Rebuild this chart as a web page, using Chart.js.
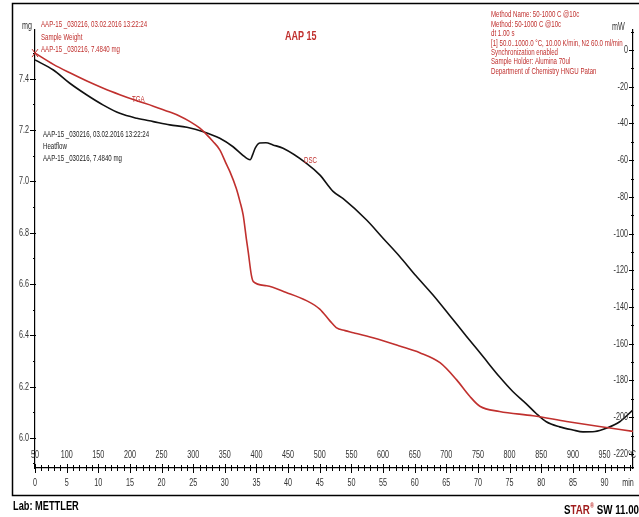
<!DOCTYPE html>
<html>
<head>
<meta charset="utf-8">
<script src="https://cdn.jsdelivr.net/npm/chart.js@4.4.1/dist/chart.umd.min.js"></script>
<style>
  html, body { margin: 0; padding: 0; background: #fff; }
  #wrap { position: relative; width: 639px; height: 517px; }
</style>
</head>
<body>
<div id="wrap"><canvas id="tgaChart" width="639" height="517"></canvas></div>
<script>
const FONT = "'Liberation Sans', Arial, sans-serif";
const RED = '#c0302e';

// TGA (red, mg) vs temperature
const tempTGA = [50, 79, 105, 132, 158, 184, 210, 237, 263, 279, 295, 310, 322, 331, 342, 353, 358, 368, 374, 379, 384, 387, 392, 395, 416, 447, 479, 500, 516, 526, 540, 553, 584, 626, 658, 690, 716, 737, 753, 784, 837, 890, 942, 995];
const massTGA = [7.50, 7.456, 7.423, 7.391, 7.363, 7.338, 7.315, 7.293, 7.27, 7.254, 7.233, 7.208, 7.18, 7.156, 7.123, 7.064, 7.038, 6.973, 6.92, 6.868, 6.776, 6.724, 6.633, 6.609, 6.593, 6.567, 6.535, 6.502, 6.456, 6.43, 6.418, 6.41, 6.39, 6.358, 6.332, 6.293, 6.227, 6.162, 6.123, 6.103, 6.086, 6.064, 6.044, 6.025];

// DSC (black, mW) vs temperature
const tempDSC = [50, 79, 105, 132, 158, 184, 211, 237, 263, 290, 316, 342, 363, 379, 386, 390, 394, 398, 405, 415, 426, 442, 479, 500, 521, 537, 574, 600, 626, 652, 679, 705, 732, 758, 784, 805, 826, 842, 858, 879, 900, 916, 935, 953, 974, 995];
const heatDSC = [-5.4, -10.9, -18.1, -24.5, -30, -34.5, -37.2, -39, -40.8, -42.1, -44.5, -48.1, -52.7, -57.5, -59.3, -59.8, -57, -53.5, -50.7, -50.5, -51.7, -53.5, -61.7, -68, -77, -81, -92.6, -102.5, -112.3, -123, -133.5, -144.5, -156, -167, -178, -186, -192.6, -198, -202.5, -205.3, -207, -208, -207.8, -206, -202.5, -196];

// axis ticks
const tempLabels = [50, 100, 150, 200, 250, 300, 350, 400, 450, 500, 550, 600, 650, 700, 750, 800, 850, 900, 950];

const toPoints = (xs, ys) => xs.map((x, i) => ({ x: x, y: ys[i] }));

// condensed text: squeeze horizontally
function txt(ctx, s, x, y, sx, align) {
  const w = ctx.measureText(s).width * sx;
  let x0 = x;
  if (align === 'right') x0 = x - w;
  if (align === 'center') x0 = x - w / 2;
  ctx.save();
  ctx.translate(x0, y);
  ctx.scale(sx, 1);
  ctx.textAlign = 'left';
  ctx.fillText(s, 0, 0);
  ctx.restore();
  return w;
}

const decor = {
  id: 'decor',
  afterDraw(chart) {
    const ctx = chart.ctx;
    const a = chart.chartArea;
    const xs = chart.scales.x;
    const xt = chart.scales.x2;
    const yl = chart.scales.y;
    const yr = chart.scales.y2;
    ctx.save();
    ctx.strokeStyle = '#000';
    ctx.fillStyle = '#000';

    // outer frame
    ctx.lineWidth = 1.5;
    ctx.strokeRect(12.5, 3.5, 700, 492);

    // y tick marks and labels
    ctx.lineWidth = 1;
    ctx.font = '10px ' + FONT;
    ctx.textBaseline = 'middle';
    ctx.fillStyle = '#333';
    yl.ticks.forEach(t => {
      const y = Math.round(yl.getPixelForValue(t.value)) + 0.5;
      const major = Math.round(t.value * 10) % 2 === 0;
      ctx.beginPath();
      ctx.moveTo(a.left - (major ? 5 : 2), y);
      ctx.lineTo(a.left + (major ? 1 : 0), y);
      ctx.stroke();
      if (major) txt(ctx, t.value.toFixed(1), a.left - 6, y, 0.72, 'right');
    });
    yr.ticks.forEach(t => {
      const y = Math.round(yr.getPixelForValue(t.value)) + 0.5;
      const major = Math.round(t.value) % 20 === 0;
      ctx.beginPath();
      ctx.moveTo(a.right - (major ? 4 : 2), y);
      ctx.lineTo(a.right + 1, y);
      ctx.stroke();
      if (major) txt(ctx, String(Math.round(t.value)), a.right - 5, y, 0.72, 'right');
    });

    // x tick marks crossing the axis
    for (let T = 50; T <= 990; T += 10) {
      const x = Math.round(xs.getPixelForValue(T)) + 0.5;
      const major = (T % 50 === 0);
      ctx.beginPath();
      ctx.moveTo(x, a.bottom - (major ? 4 : 3));
      ctx.lineTo(x, a.bottom + (major ? 5 : 3));
      ctx.stroke();
    }

    // start marker
    ctx.strokeStyle = RED;
    const y0 = yl.getPixelForValue(7.5);
    ctx.beginPath();
    ctx.moveTo(a.left - 3, y0 - 4);
    ctx.lineTo(a.left + 3, y0 + 4);
    ctx.moveTo(a.left + 3, y0 - 4);
    ctx.lineTo(a.left - 3, y0 + 4);
    ctx.stroke();

    // temperature labels above the axis, time labels below
    tempLabels.forEach(T => txt(ctx, String(T), xs.getPixelForValue(T), a.bottom - 13, 0.72, 'center'));
    txt(ctx, '°C', a.right - 1, a.bottom - 13, 0.72, 'center');
    xt.ticks.forEach(t => txt(ctx, String(t.value), xt.getPixelForValue(t.value), a.bottom + 15, 0.72, 'center'));
    txt(ctx, 'min', a.right - 5, a.bottom + 15, 0.72, 'center');

    // axis units
    txt(ctx, 'mg', 22, 26, 0.72, 'left');
    txt(ctx, 'mW', 612, 27, 0.72, 'left');

    // red header texts
    ctx.fillStyle = RED;
    ctx.font = '9px ' + FONT;
    ['AAP-15 _030216, 03.02.2016 13:22:24', 'Sample Weight', 'AAP-15 _030216, 7.4840 mg']
      .forEach((s, i) => txt(ctx, s, 41, 25 + i * 12.5, 0.68, 'left'));
    ['Method Name: 50-1000 C @10c', 'Method: 50-1000 C @10c', 'dt 1.00 s',
     '[1] 50.0..1000.0 °C, 10.00 K/min, N2 60.0 ml/min', 'Synchronization enabled',
     'Sample Holder: Alumina 70ul', 'Department of Chemistry HNGU Patan']
      .forEach((s, i) => txt(ctx, s, 491, 15 + i * 9.4, 0.68, 'left'));
    txt(ctx, 'TGA', 132, 100, 0.68, 'left');
    txt(ctx, 'DSC', 304, 161, 0.68, 'left');
    ctx.font = 'bold 12px ' + FONT;
    txt(ctx, 'AAP 15', 285, 37, 0.75, 'left');

    // black heatflow block
    ctx.fillStyle = '#222';
    ctx.font = '9px ' + FONT;
    ['AAP-15 _030216, 03.02.2016 13:22:24', 'Heatflow', 'AAP-15 _030216, 7.4840 mg']
      .forEach((s, i) => txt(ctx, s, 43, 135 + i * 12, 0.68, 'left'));

    // footer
    ctx.textBaseline = 'alphabetic';
    ctx.fillStyle = '#000';
    ctx.font = 'bold 12.5px ' + FONT;
    txt(ctx, 'Lab: METTLER', 13, 510, 0.74, 'left');
    const tw = txt(ctx, ' SW 11.00', 639, 514, 0.78, 'right');
    ctx.font = 'bold 7px ' + FONT;
    ctx.fillStyle = RED;
    const rw = txt(ctx, '®', 639 - tw, 508, 0.8, 'right');
    ctx.font = 'bold 12.5px ' + FONT;
    ctx.fillStyle = '#a01c1c';
    const aw = txt(ctx, 'TAR', 639 - tw - rw, 514, 0.78, 'right');
    ctx.fillStyle = '#000';
    txt(ctx, 'S', 639 - tw - rw - aw, 514, 0.78, 'right');
    ctx.restore();
  }
};

new Chart(document.getElementById('tgaChart'), {
  type: 'line',
  data: {
    datasets: [{
      label: 'TGA',
      data: toPoints(tempTGA, massTGA),
      borderColor: RED,
      borderWidth: 1.6,
      pointRadius: 0,
      cubicInterpolationMode: 'monotone',
      xAxisID: 'x',
      yAxisID: 'y'
    }, {
      label: 'DSC',
      data: toPoints(tempDSC, heatDSC),
      borderColor: '#111',
      borderWidth: 1.6,
      pointRadius: 0,
      cubicInterpolationMode: 'monotone',
      xAxisID: 'x',
      yAxisID: 'y2'
    }]
  },
  options: {
    responsive: false,
    animation: false,
    layout: { padding: { top: 30, left: 0, right: 0, bottom: 0 } },
    plugins: {
      legend: { display: false },
      tooltip: { enabled: false }
    },
    scales: {
      x: {
        type: 'linear',
        min: 50,
        max: 995,
        display: false
      },
      x2: {
        type: 'linear',
        position: 'bottom',
        min: 0,
        max: 94.5,
        afterFit: s => { s.height = 49; },
        ticks: { stepSize: 5, includeBounds: false, display: false },
        grid: { display: false, drawTicks: false },
        border: { display: true, color: '#000', width: 1.2 }
      },
      y: {
        position: 'left',
        min: 5.8824,
        max: 7.59,
        afterFit: s => { s.width = 35; },
        ticks: { stepSize: 0.1, includeBounds: false, display: false },
        grid: { display: false, drawTicks: false },
        border: { display: true, color: '#000', width: 1.2 }
      },
      y2: {
        position: 'right',
        min: -227.7,
        max: 10.9,
        afterFit: s => { s.width = 6; },
        ticks: { stepSize: 10, includeBounds: false, display: false },
        grid: { display: false, drawTicks: false },
        border: { display: true, color: '#000', width: 1.2 }
      }
    }
  },
  plugins: [decor]
});
</script>
</body>
</html>
